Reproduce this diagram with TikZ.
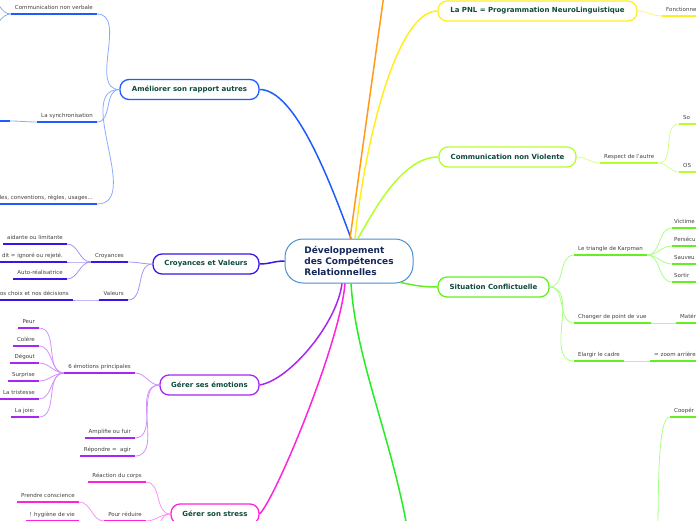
\documentclass[tikz,border=0pt]{standalone}
\usepackage{fontspec}
\setmainfont{DejaVu Sans}
\definecolor{cblue}{HTML}{1E5CFF}
\definecolor{cbluel}{HTML}{8AAAFF}
\definecolor{cviol}{HTML}{3A14E8}
\definecolor{cvioll}{HTML}{A494F2}
\definecolor{cpurp}{HTML}{A626F2}
\definecolor{cpurpl}{HTML}{D290FF}
\definecolor{cmag}{HTML}{FF22DD}
\definecolor{cmagl}{HTML}{FF90EE}
\definecolor{corange}{HTML}{FF9A1A}
\definecolor{cyel}{HTML}{FFEE22}
\definecolor{cyell}{HTML}{FFF080}
\definecolor{cyg}{HTML}{B4FF2A}
\definecolor{cygl}{HTML}{D4FF8E}
\definecolor{cgr}{HTML}{66EE22}
\definecolor{cgrl}{HTML}{A8FF84}
\definecolor{cgr2}{HTML}{22EE22}
\definecolor{ccent}{HTML}{4A90D0}
\definecolor{ttopic}{HTML}{0E4A3C}
\definecolor{tcent}{HTML}{14285A}
\definecolor{tsub}{HTML}{404040}
\begin{document}
\begin{tikzpicture}[x=1pt,y=-1pt,
  topic/.style={draw=#1, line width=1.3pt, rounded corners=9pt, minimum height=20pt,
    inner sep=0pt, font=\fontsize{7}{8}\selectfont\bfseries, text=ttopic, fill=white},
  sub/.style={font=\fontsize{5.5}{6}\selectfont, text=tsub, inner xsep=4pt, inner ysep=3.5pt,
    text height=4.2pt, text depth=1.3pt},
  lsub/.style={sub, anchor=south east},
  rsub/.style={sub, anchor=south west},
  rcut/.style={sub, anchor=south west, text width=60pt, align=left},
  rcut2/.style={rcut, inner xsep=2pt},
  mainline/.style={line width=1.5pt, draw=#1},
  subline/.style={line width=0.8pt, draw=#1},
  ul/.style={line width=1.8pt, draw=#1}
]
\useasboundingbox (0,0) rectangle (696,520);
\clip (0,0) rectangle (696,520);

% ---------- central node
\node[draw=ccent, line width=1pt, rounded corners=18pt, minimum width=128pt, minimum height=44pt,
  align=left, font=\fontsize{9}{11}\selectfont\bfseries, text=tcent, fill=white] (c) at (349,261)
  {Développement\\des Compétences\\Relationnelles};

% ---------- main topics
\node[topic=cblue, minimum width=139pt] (amel) at (189.5,89.5) {Améliorer son rapport autres};
\node[topic=cviol, minimum width=106pt] (croy) at (206,264) {Croyances et Valeurs};
\node[topic=cpurp, minimum width=99pt] (emo) at (209.5,385) {Gérer ses émotions};
\node[topic=cmag, minimum width=88pt] (stress) at (215,514) {Gérer son stress};
\node[topic=cyel, minimum width=199pt] (pnl) at (537.5,11) {La PNL = Programmation NeuroLinguistique};
\node[topic=cyg, minimum width=137pt] (cnv) at (507.5,157) {Communication non Violente};
\node[topic=cgr, minimum width=111pt] (sit) at (493.5,287) {Situation Conflictuelle};

\coordinate (oend) at (386,-20);
\coordinate (gend) at (410,545);

% ---------- main connectors
\draw[mainline=cblue] ([xshift=2pt]c.north) .. controls +(-22,-60) and +(35,0) .. (amel.east);
\draw[mainline=corange] ([xshift=1pt]c.north) -- (oend);
\draw[mainline=cyel] ([xshift=6pt]c.north) .. controls +(10,-100) and +(-40,0) .. (pnl.west);
\draw[mainline=cyg] ([xshift=9pt]c.north) .. controls +(18,-32) and +(-35,0) .. (cnv.west);
\draw[mainline=cgr] ([xshift=-13pt,yshift=1pt]c.south east) .. controls +(15,3) and +(-15,0) .. (sit.west);
\draw[mainline=cviol] (c.west) .. controls +(-10,0) and +(10,0) .. (croy.east);
\draw[mainline=cpurp] ([xshift=-7pt]c.south) .. controls +(-5,40) and +(30,-5) .. (emo.east);
\draw[mainline=cmag] ([xshift=-4pt]c.south) .. controls +(-5,60) and +(16,-16) .. (stress.east);
\draw[mainline=cgr2] ([xshift=2pt]c.south) .. controls +(5,80) and +(-15,-100) .. (gend);

% ---------- Améliorer son rapport autres
\node[lsub] (b1) at (97,14) {Communication non verbale};
\node[lsub] (b2) at (97,122) {La synchronisation};
\node[lsub] (b3) at (97,204) {les, conventions, règles, usages...};
\coordinate (b1a) at (-12,-2);
\coordinate (b1b) at (-12,28);
\coordinate (b2a) at (10,121);
\coordinate (b2a0) at (-10,121);
\draw[subline=cbluel] (amel.west) to[out=180,in=0] (b1.south east);
\draw[subline=cbluel] (amel.west) to[out=180,in=0] (b2.south east);
\draw[subline=cbluel] (amel.west) to[out=180,in=0] (b3.south east);
\draw[subline=cbluel] (b1.south west) to[out=180,in=0] (b1a);
\draw[subline=cbluel] (b1.south west) to[out=180,in=0] (b1b);
\draw[subline=cbluel] (b2.south west) to[out=180,in=0] (b2a);
\draw[ul=cblue] (b2a0) -- (b2a);
\foreach \n in {b1,b2,b3} \draw[ul=cblue] (\n.south west) -- (\n.south east);

% ---------- Croyances et Valeurs
\node[lsub] (v1) at (128,262) {Croyances};
\node[lsub] (v2) at (128,300) {Valeurs};
\node[lsub] (v11) at (67,244) {aidante ou limitante};
\node[lsub] (v12) at (67,262) {dit = ignoré ou rejeté.};
\node[lsub] (v13) at (67,279) {Auto-réalisatrice};
\node[lsub, minimum width=73pt, align=right] (v21) at (73,300) {os choix et nos décisions};
\draw[subline=cvioll] (croy.west) to[out=180,in=0] (v1.south east);
\draw[subline=cvioll] (croy.west) to[out=180,in=0] (v2.south east);
\foreach \n in {v11,v12,v13} \draw[subline=cvioll] (v1.south west) to[out=180,in=0] (\n.south east);
\draw[subline=cvioll] (v2.south west) to[out=180,in=0] (v21.south east);
\foreach \n in {v1,v2,v11,v12,v13,v21} \draw[ul=cviol] (\n.south west) -- (\n.south east);

% ---------- Gérer ses émotions
\node[lsub] (p1) at (135,373) {6 émotions principales};
\node[lsub] (p11) at (39,328) {Peur};
\node[lsub] (p12) at (39,346) {Colère};
\node[lsub] (p13) at (39,363) {Dégout};
\node[lsub] (p14) at (39,381) {Surprise};
\node[lsub] (p15) at (39,399) {La tristesse};
\node[lsub] (p16) at (39,417) {La joie:};
\node[lsub] (p2) at (135,438) {Amplifie ou fuir};
\node[lsub] (p3) at (135,456) {Répondre = \ agir};
\foreach \n in {p1,p2,p3} \draw[subline=cpurpl] (emo.west) to[out=180,in=0] (\n.south east);
\foreach \n in {p11,p12,p13,p14,p15,p16} \draw[subline=cpurpl] (p1.south west) to[out=180,in=0] (\n.south east);
\foreach \n in {p1,p2,p3,p11,p12,p13,p14,p15,p16} \draw[ul=cpurp] (\n.south west) -- (\n.south east);

% ---------- Gérer son stress
\node[lsub] (m1) at (146,482) {Réaction du corps};
\node[lsub] (m2) at (146,521) {Pour réduire};
\node[lsub] (m21) at (79,502) {Prendre conscience};
\node[lsub] (m22) at (79,521) {! hygiène de vie};
\coordinate (m3) at (146,560);
\foreach \n in {m1,m2} \draw[subline=cmagl] (stress.west) to[out=180,in=0] (\n.south east);
\draw[subline=cmagl] (stress.west) to[out=180,in=0] (m3);
\foreach \n in {m21,m22} \draw[subline=cmagl] (m2.south west) to[out=180,in=0] (\n.south east);
\foreach \n in {m1,m2,m21,m22} \draw[ul=cmag] (\n.south west) -- (\n.south east);

% ---------- La PNL
\node[rcut] (y1) at (662,16) {Fonctionne};
\draw[subline=cyell] (pnl.east) to[out=0,in=180] (y1.south west);
\draw[ul=cyel] (y1.south west) -- (y1.south east);

% ---------- Communication non Violente
\node[rsub] (g1) at (600,163) {Respect de l'autre};
\node[rcut] (g11) at (679,124) {So};
\node[rcut] (g12) at (679,172) {OS};
\draw[subline=cygl] (cnv.east) to[out=0,in=180] (g1.south west);
\foreach \n in {g11,g12} \draw[subline=cygl] (g1.south east) to[out=0,in=180] (\n.south west);
\foreach \n in {g1,g11,g12} \draw[ul=cyg] (\n.south west) -- (\n.south east);

% ---------- Situation Conflictuelle
\node[rsub] (k1) at (574,255) {Le triangle de Karpman};
\node[rcut2] (k11) at (672,228) {Victime};
\node[rcut2] (k12) at (672,246) {Persécu};
\node[rcut2] (k13) at (672,264) {Sauveu};
\node[rcut2] (k14) at (672,282) {Sortir};
\node[rsub] (k2) at (574,323) {Changer de point de vue};
\node[rcut] (k21) at (676,323) {Matér};
\node[rsub] (k3) at (574,361) {Elargir le cadre};
\node[rcut] (k31) at (650,361) {= zoom arrière};
\node[rcut] (k4) at (670,417) {Coopér};
\coordinate (k4p) at (658,560);
\foreach \n in {k1,k2,k3} \draw[subline=cgrl] (sit.east) to[out=0,in=180] (\n.south west);
\foreach \n in {k11,k12,k13,k14} \draw[subline=cgrl] (k1.south east) to[out=0,in=180] (\n.south west);
\draw[subline=cgrl] (k2.south east) -- (k21.south west);
\draw[subline=cgrl] (k3.south east) -- (k31.south west);
\draw[subline=cgrl] (k4p) .. controls +(0,-80) and +(-12,0) .. (k4.south west);
\foreach \n in {k1,k11,k12,k13,k14,k2,k21,k3,k31,k4} \draw[ul=cgr] (\n.south west) -- (\n.south east);
\end{tikzpicture}
\end{document}
